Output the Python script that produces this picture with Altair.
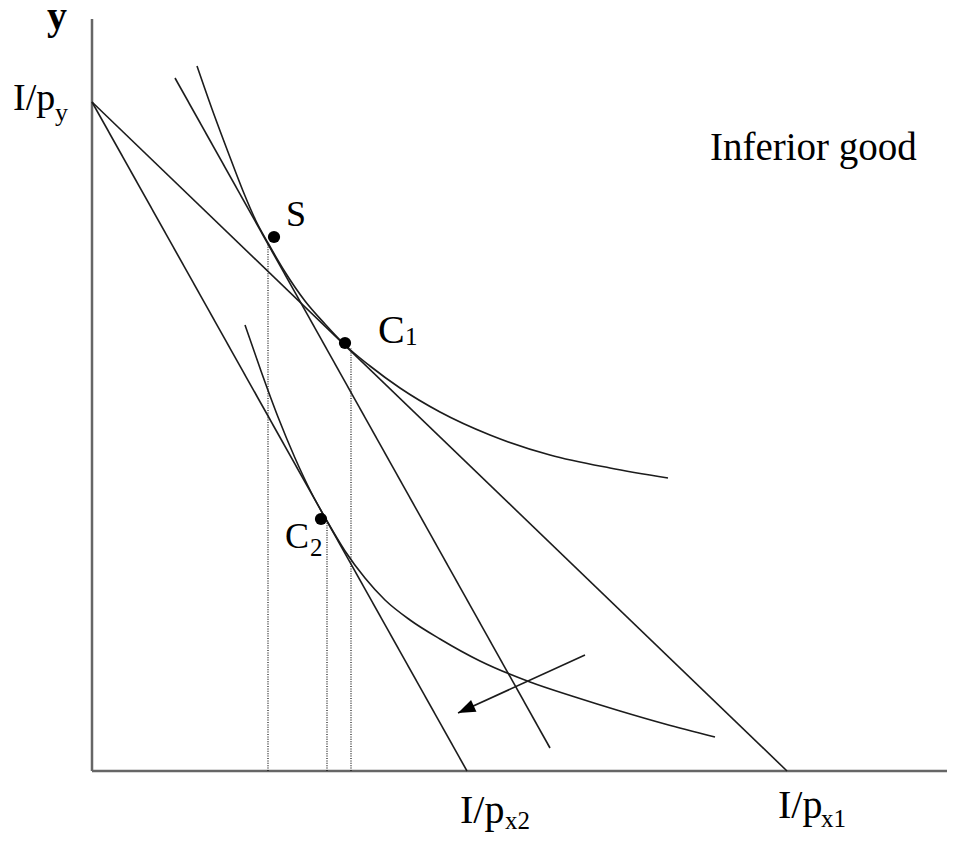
import altair as alt
import pandas as pd

# Diagram units: origin at the axis corner, x to the right, y upward (1 unit ~ 1 px)

# Axes (drawn as plain lines)
axis_x = [0, 0]
axis_y = [0, 0]
axis_x2 = [863, 0]
axis_y2 = [0, 752]

# Straight budget lines
seg_name = ["Budget 1 (I/px1)", "Budget 2 (I/px2)", "Compensated"]
seg_x = [0, 0, 83]
seg_y = [669, 669, 693]
seg_x2 = [695, 375, 458]
seg_y2 = [0, 0, 23]

# Indifference curve 1
ic1_x = [105, 120, 136, 151, 164, 176, 193, 213, 233, 253, 278, 308, 348, 398, 458, 518, 576]
ic1_y = [705, 662, 619, 580, 550, 528, 499, 470, 447, 426, 405, 383, 359, 336, 316, 303, 293]

# Indifference curve 2
ic2_x = [153, 169, 186, 203, 219, 235, 253, 273, 293, 318, 348, 388, 438, 483, 528, 573, 623]
ic2_y = [446, 400, 354, 313, 279, 250, 220, 193, 171, 151, 132, 110, 89, 74, 60, 47, 34]

# Points
pt_name = ["S", "C1", "C2"]
pt_x = [182, 253, 229]
pt_y = [534, 428, 252]

# Dotted drop lines
drop_x = [176, 235, 259]
drop_top = [528, 248, 423]

# Arrow (start, tip)
arrow_x = [493, 366]
arrow_y = [116, 58]

# Labels (main text)
lab_text = ["I/p", "Inferior good", "S", "C", "C", "I/p", "I/p"]
lab_x = [-79, 618, 194, 286, 193, 368, 686]
lab_y = [661, 611, 545, 428, 223, -52, -47]
lab_size = [38, 39, 36, 40, 36, 40, 40]
# Subscripts
sub_text = ["y", "1", "2", "x2", "x1"]
sub_x = [-37, 313, 218, 413, 729]
sub_y = [650, 426, 215, -58, -56]
sub_size = [26, 25, 25, 25, 25]
# Axis name
ax_text = ["y"]
ax_x = [-45]
ax_y = [742]

FONT = "Liberation Serif"
INK = "#1c1c1c"
xs = alt.Scale(domain=[-84, 855], nice=False, zero=False)
ys = alt.Scale(domain=[-62, 763], nice=False, zero=False)

def X(f):
    return alt.X(f, type="quantitative", scale=xs, axis=None)

def Y(f):
    return alt.Y(f, type="quantitative", scale=ys, axis=None)

axes_df = pd.DataFrame({"x": axis_x, "y": axis_y, "x2": axis_x2, "y2": axis_y2})
axes = alt.Chart(axes_df).mark_rule(color="#666666", strokeWidth=2.5).encode(
    x=X("x"), y=Y("y"), x2="x2", y2="y2")

seg_df = pd.DataFrame({"name": seg_name, "x": seg_x, "y": seg_y, "x2": seg_x2, "y2": seg_y2})
segs = alt.Chart(seg_df).mark_rule(color=INK, strokeWidth=1.6).encode(
    x=X("x"), y=Y("y"), x2="x2", y2="y2")

ic_df = pd.DataFrame({
    "curve": ["IC1"] * len(ic1_x) + ["IC2"] * len(ic2_x),
    "x": ic1_x + ic2_x,
    "y": ic1_y + ic2_y,
    "o": list(range(len(ic1_x))) + list(range(len(ic2_x))),
})
curves = alt.Chart(ic_df).mark_line(color=INK, strokeWidth=1.6, interpolate="monotone").encode(
    x=X("x"), y=Y("y"), detail="curve:N", order="o:Q")

drop_df = pd.DataFrame({"x": drop_x, "top": drop_top, "bottom": [0] * len(drop_x)})
drops = alt.Chart(drop_df).mark_rule(color="#111111", strokeWidth=1.2, strokeDash=[1, 1.4]).encode(
    x=X("x"), y=Y("bottom"), y2="top")

pt_df = pd.DataFrame({"name": pt_name, "x": pt_x, "y": pt_y})
dots = alt.Chart(pt_df).mark_circle(size=150, color="black", opacity=1).encode(
    x=X("x"), y=Y("y"))

arr_df = pd.DataFrame({"x": arrow_x, "y": arrow_y, "o": [0, 1]})
shaft = alt.Chart(arr_df).mark_line(color=INK, strokeWidth=1.6).encode(
    x=X("x"), y=Y("y"), order="o:Q")
head_df = pd.DataFrame({"x": arrow_x[1:], "y": arrow_y[1:]})
head = alt.Chart(head_df).mark_point(
    shape="M0,0 L0.75,2 L-0.75,2 Z", filled=True, color="black", opacity=1,
    size=300, angle=245.5, strokeWidth=0).encode(x=X("x"), y=Y("y"))

lab_df = pd.DataFrame({"t": lab_text, "x": lab_x, "y": lab_y, "s": lab_size})
labels = alt.Chart(lab_df).mark_text(align="left", baseline="alphabetic", font=FONT, color="black").encode(
    x=X("x"), y=Y("y"), text="t:N", size=alt.Size("s:Q", scale=None, legend=None))

sub_df = pd.DataFrame({"t": sub_text, "x": sub_x, "y": sub_y, "s": sub_size})
subs = alt.Chart(sub_df).mark_text(align="left", baseline="alphabetic", font=FONT, color="black").encode(
    x=X("x"), y=Y("y"), text="t:N", size=alt.Size("s:Q", scale=None, legend=None))

ax_df = pd.DataFrame({"t": ax_text, "x": ax_x, "y": ax_y})
axlab = alt.Chart(ax_df).mark_text(align="left", baseline="alphabetic", font=FONT, fontSize=40,
                                    fontWeight="bold", color="black").encode(
    x=X("x"), y=Y("y"), text="t:N")

chart = alt.layer(axes, drops, segs, curves, shaft, head, dots, labels, subs, axlab).properties(
    width=939, height=825, autosize=alt.AutoSizeParams(type="none"), padding=0,
    background="white",
).configure_view(stroke=None)

chart.save("out.html", embed_options={"renderer": "svg", "actions": False})
